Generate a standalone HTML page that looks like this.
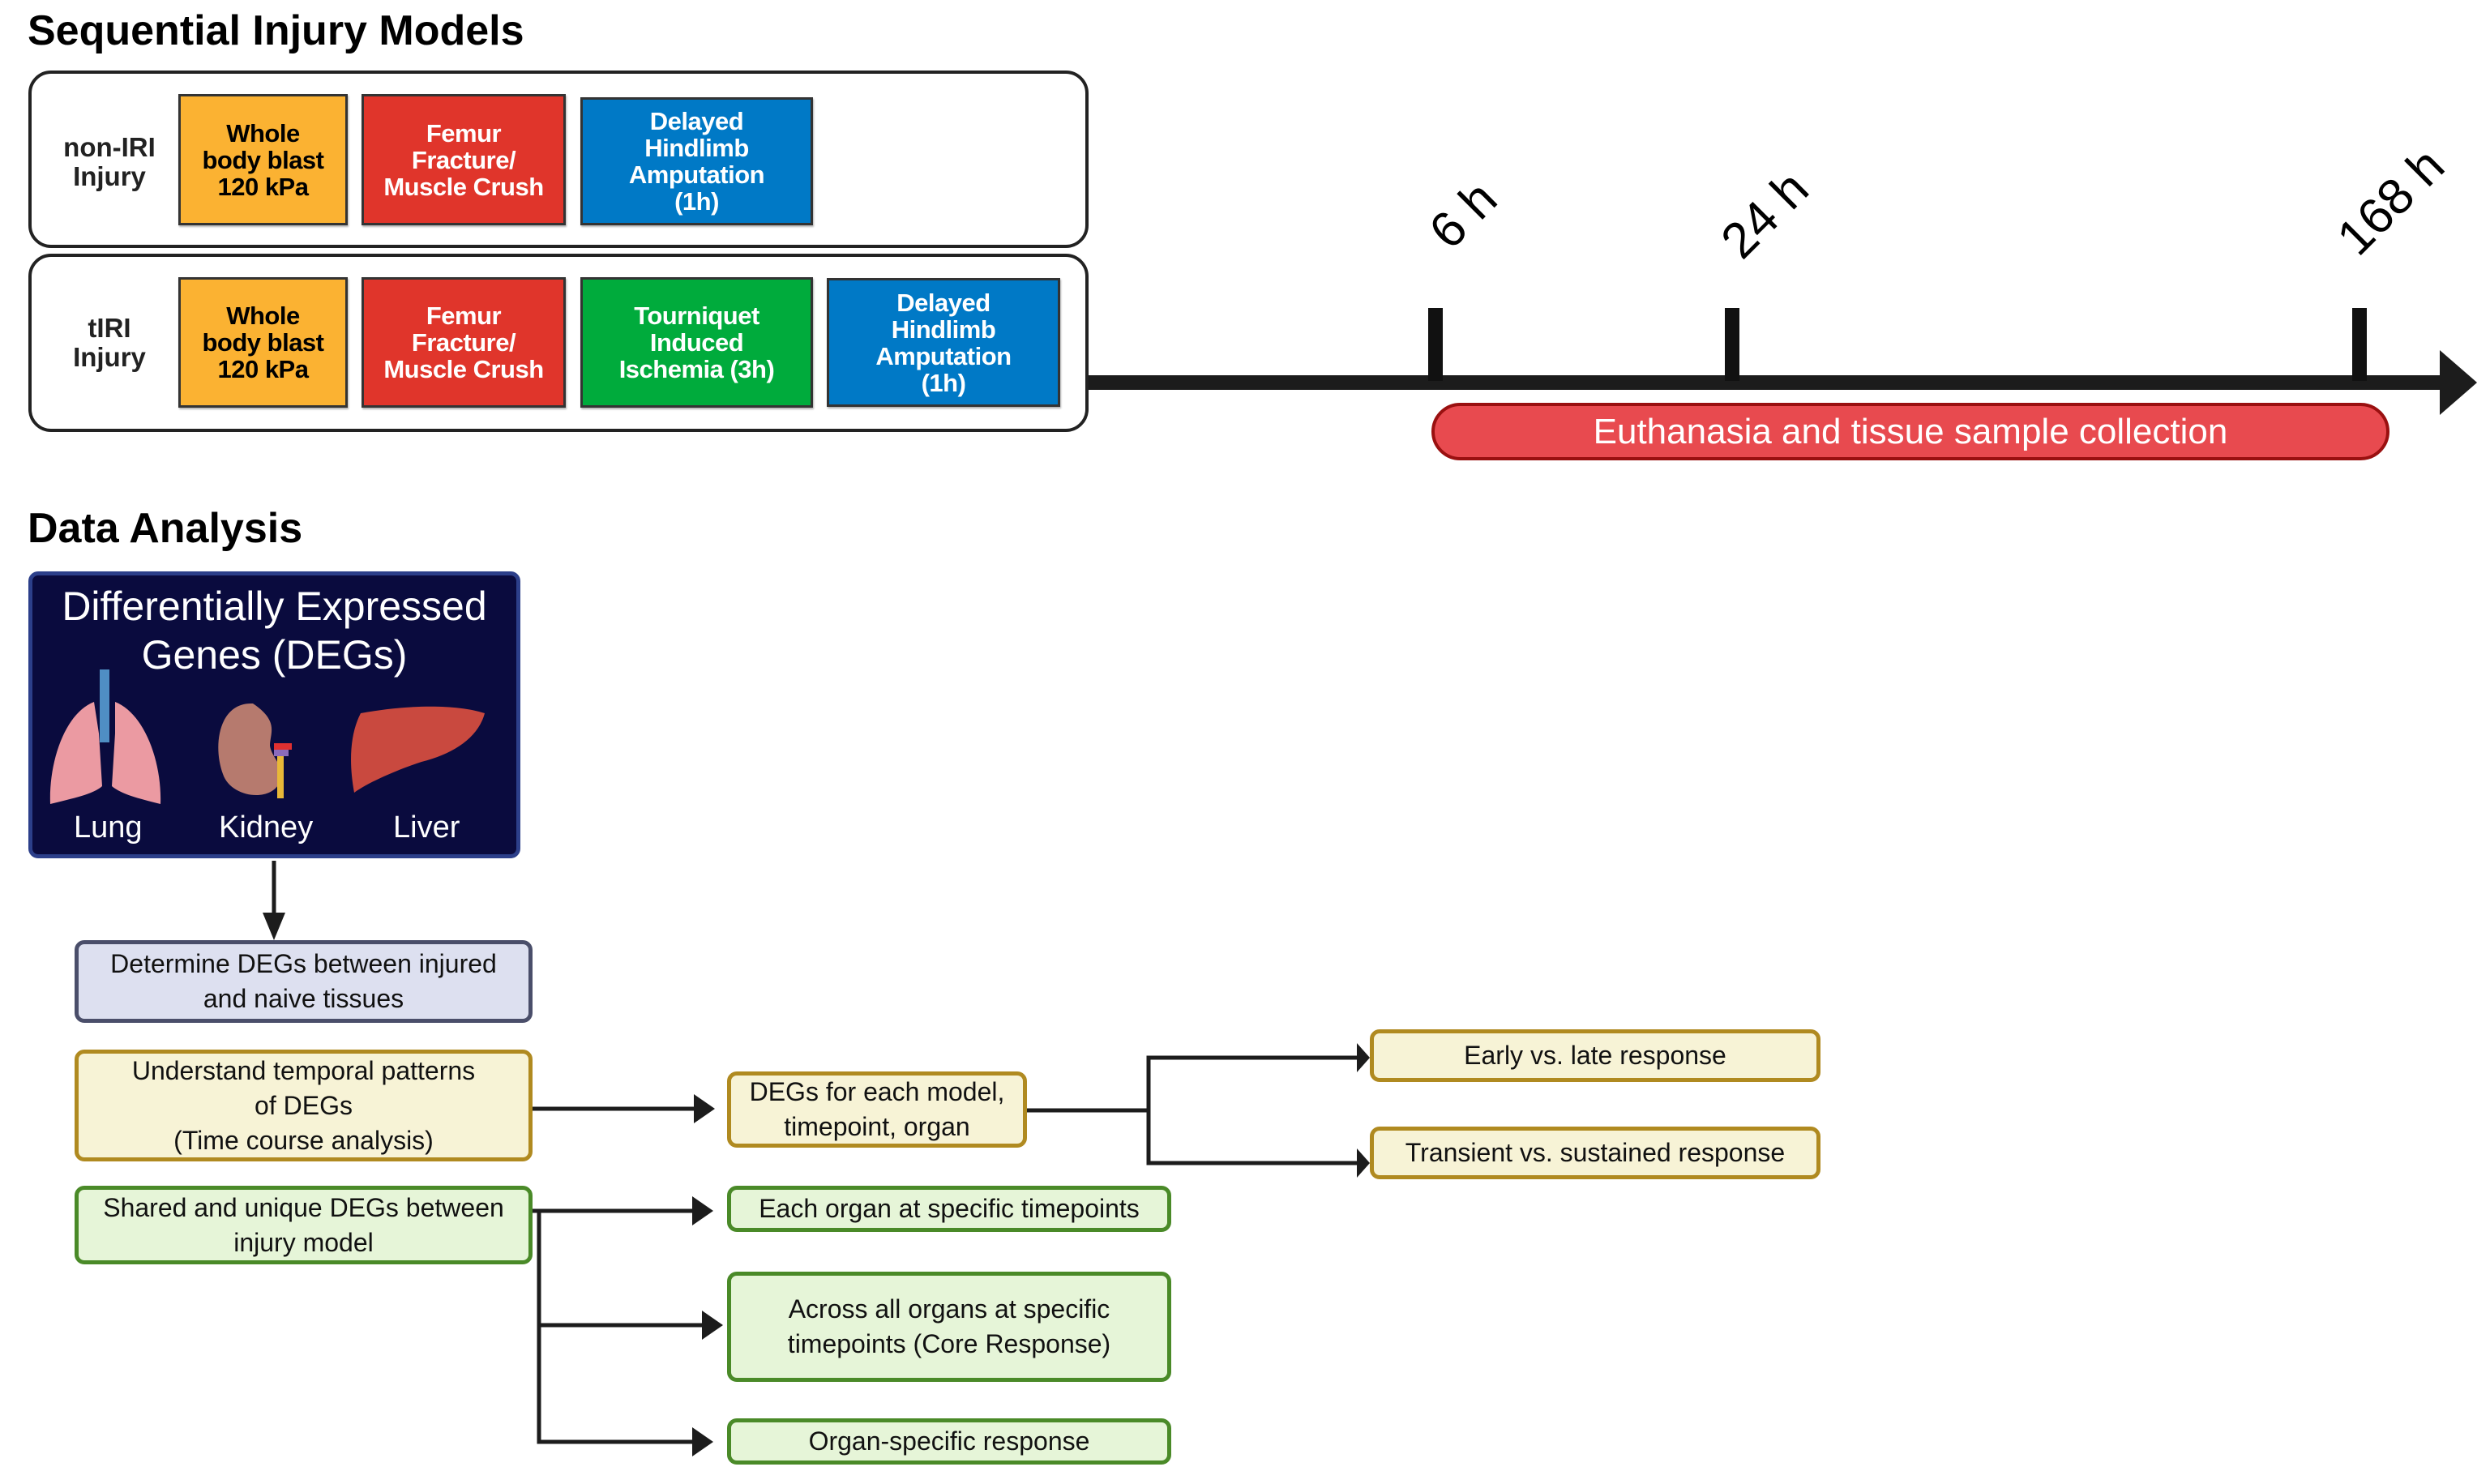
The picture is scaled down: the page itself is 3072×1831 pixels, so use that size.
<!DOCTYPE html>
<html><head><meta charset="utf-8"><style>
body{margin:0;width:3072px;height:1831px;background:#fff;position:relative;overflow:hidden;font-family:"Liberation Sans",sans-serif}
.a{position:absolute;box-sizing:border-box}
.t{display:flex;align-items:center;justify-content:center;text-align:center}
.ib{font-weight:bold;font-size:31px;line-height:33px;letter-spacing:-0.5px;border:3px solid #333;box-shadow:1px 2px 2px rgba(0,0,0,.3)}
.fb{font-size:32px;line-height:43px;border-radius:12px;border-width:5px;border-style:solid;color:#111}
.y{background:#f7f3d6;border-color:#b08a20}
.g{background:#e6f5d8;border-color:#4a8a28}
.lab{font-size:62px;transform-origin:left bottom;transform:rotate(-45deg);white-space:nowrap}
</style></head><body>
<div class="a" style="left:34px;top:8px;font-size:52px;font-weight:bold">Sequential Injury Models</div>
<div class="a" style="left:35px;top:87px;width:1308px;height:219px;border:4px solid #222;border-radius:28px"></div>
<div class="a" style="left:35px;top:313px;width:1308px;height:220px;border:4px solid #222;border-radius:28px"></div>
<div class="a t" style="left:60px;top:160px;width:150px;height:80px;font-size:33px;line-height:36px;font-weight:bold;color:#222">non-IRI<br>Injury</div>
<div class="a t" style="left:60px;top:383px;width:150px;height:80px;font-size:33px;line-height:36px;font-weight:bold;color:#222">tIRI<br>Injury</div>
<div class="a t ib" style="left:220px;top:116px;width:209px;height:162px;background:#fbb232">Whole<br>body blast<br>120 kPa</div>
<div class="a t ib" style="left:446px;top:116px;width:252px;height:162px;background:#e0352b;color:#fff">Femur<br>Fracture/<br>Muscle Crush</div>
<div class="a t ib" style="left:716px;top:120px;width:287px;height:158px;background:#0079c6;color:#fff">Delayed<br>Hindlimb<br>Amputation<br>(1h)</div>
<div class="a t ib" style="left:220px;top:342px;width:209px;height:161px;background:#fbb232">Whole<br>body blast<br>120 kPa</div>
<div class="a t ib" style="left:446px;top:342px;width:252px;height:161px;background:#e0352b;color:#fff">Femur<br>Fracture/<br>Muscle Crush</div>
<div class="a t ib" style="left:716px;top:342px;width:287px;height:161px;background:#00ab3c;color:#fff">Tourniquet<br>Induced<br>Ischemia (3h)</div>
<div class="a t ib" style="left:1020px;top:343px;width:288px;height:159px;background:#0079c6;color:#fff">Delayed<br>Hindlimb<br>Amputation<br>(1h)</div>
<svg class="a" style="left:0;top:0" width="3072" height="1831">
<rect x="1343" y="463" width="1675" height="18" fill="#1c1c1c"/>
<polygon points="3010,432 3056,472 3010,512" fill="#1c1c1c"/>
<rect x="1762" y="380" width="18" height="90" fill="#111"/>
<rect x="2128" y="380" width="18" height="90" fill="#111"/>
<rect x="2902" y="380" width="18" height="90" fill="#111"/>
<g stroke="#1c1c1c" stroke-width="5" fill="none">
<line x1="338" y1="1062" x2="338" y2="1130"/>
<line x1="657" y1="1368" x2="862" y2="1368"/>
<polyline points="1267,1370 1417,1370"/>
<polyline points="1683,1305 1417,1305 1417,1435 1683,1435"/>
<polyline points="657,1494 860,1494"/>
<polyline points="665,1494 665,1779 860,1779"/>
<line x1="665" y1="1635" x2="872" y2="1635"/>
</g>
<g fill="#1c1c1c">
<polygon points="324,1126 352,1126 338,1160"/>
<polygon points="856,1350 882,1368 856,1386"/>
<polygon points="1674,1287 1690,1305 1674,1323"/>
<polygon points="1674,1417 1690,1435 1674,1453"/>
<polygon points="854,1476 880,1494 854,1512"/>
<polygon points="866,1617 892,1635 866,1653"/>
<polygon points="854,1761 880,1779 854,1797"/>
</g>
</svg>
<div class="a lab" style="left:1800px;top:250px">6 h</div>
<div class="a lab" style="left:2160px;top:262px">24 h</div>
<div class="a lab" style="left:2920px;top:258px">168 h</div>
<div class="a t" style="left:1766px;top:497px;width:1182px;height:71px;background:#e84a4f;border:4px solid #9a1010;border-radius:36px;color:#fff;font-size:44px">Euthanasia and tissue sample collection</div>
<div class="a" style="left:34px;top:622px;font-size:52px;font-weight:bold">Data Analysis</div>
<div class="a" style="left:35px;top:705px;width:607px;height:354px;background:#0a0b3e;border:5px solid #2c3f8a;border-radius:12px"></div>
<div class="a" style="left:35px;top:718px;width:607px;text-align:center;color:#fff;font-size:50px;line-height:60px">Differentially Expressed<br>Genes (DEGs)</div>
<svg class="a" style="left:0;top:0" width="700" height="1060">
<path d="M116,866 C80,880 60,940 62,992 C90,985 115,980 126,970 L122,905 Z" fill="#eb9aa2"/>
<path d="M142,866 C178,880 200,940 198,992 C170,985 150,980 138,970 L142,905 Z" fill="#eb9aa2"/>
<rect x="123" y="826" width="12" height="90" fill="#4f8ec4"/>
<path d="M312,868 C270,866 262,920 275,955 C285,985 335,990 345,965 C352,945 335,935 333,920 C333,905 345,890 312,868 Z" fill="#b67a6e"/>
<rect x="338" y="917" width="22" height="8" fill="#e03030"/>
<rect x="338" y="925" width="18" height="8" fill="#8b6bbb"/>
<rect x="342" y="933" width="8" height="52" fill="#e8b838"/>
<path d="M445,880 C500,870 560,868 598,880 C590,910 560,930 520,940 C490,950 455,965 437,978 C430,940 432,905 445,880 Z" fill="#c9493f"/>
</svg>
<div class="a" style="left:35px;top:1000px;width:607px;color:#fff;font-size:38px">
<span class="a" style="left:56px">Lung</span><span class="a" style="left:235px">Kidney</span><span class="a" style="left:450px">Liver</span></div>
<div class="a t fb" style="left:92px;top:1160px;width:565px;height:102px;background:#dde0f0;border-color:#4a4e6a">Determine DEGs between injured<br>and naive tissues</div>
<div class="a t fb y" style="left:92px;top:1295px;width:565px;height:138px">Understand temporal patterns<br>of DEGs<br>(Time course analysis)</div>
<div class="a t fb g" style="left:92px;top:1463px;width:565px;height:97px">Shared and unique DEGs between<br>injury model</div>
<div class="a t fb y" style="left:897px;top:1322px;width:370px;height:94px">DEGs for each model,<br>timepoint, organ</div>
<div class="a t fb y" style="left:1690px;top:1270px;width:556px;height:65px">Early vs. late response</div>
<div class="a t fb y" style="left:1690px;top:1390px;width:556px;height:65px">Transient vs. sustained response</div>
<div class="a t fb g" style="left:897px;top:1463px;width:548px;height:57px">Each organ at specific timepoints</div>
<div class="a t fb g" style="left:897px;top:1569px;width:548px;height:136px">Across all organs at specific<br>timepoints (Core Response)</div>
<div class="a t fb g" style="left:897px;top:1750px;width:548px;height:57px">Organ-specific response</div>
</body></html>
